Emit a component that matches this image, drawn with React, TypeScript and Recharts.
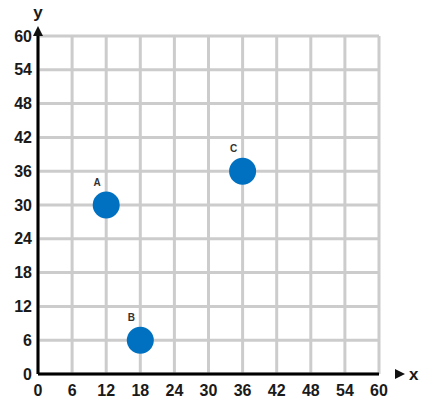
import { ScatterChart, Scatter, XAxis, YAxis, CartesianGrid } from 'recharts';

const pointNames = ['A', 'B', 'C'];
const xValues = [12, 18, 36];
const yValues = [30, 6, 36];
const axisTicks = [0, 6, 12, 18, 24, 30, 36, 42, 48, 54, 60];

const points = pointNames.map((name, i) => ({ name, x: xValues[i], y: yValues[i] }));

const FONT = '"Liberation Sans", Arial, sans-serif';

// dot with its letter up and to the left
function Dot(props: any) {
  const { cx, cy, payload } = props;
  return (
    <g>
      <circle cx={cx} cy={cy} r={13.5} fill="#0070c0" />
      <text x={cx - 9} y={cy - 19} textAnchor="middle" fontSize={10} fontWeight="bold" fontFamily={FONT} fill="#333">
        {payload.name}
      </text>
    </g>
  );
}

function XArrow(props: any) {
  const { viewBox } = props;
  const end = viewBox.x + viewBox.width;
  const y = viewBox.y;
  return (
    <g>
      <polygon points={`${end + 16},${y - 5} ${end + 26},${y} ${end + 16},${y + 5}`} fill="#111" />
      <text x={end + 30} y={y + 6} fontSize={17} fontWeight="bold" fontFamily={FONT} fill="#1a1a1a">x</text>
    </g>
  );
}

function YArrow(props: any) {
  const { viewBox } = props;
  const x = viewBox.x + viewBox.width;
  const top = viewBox.y;
  return (
    <g>
      <polygon points={`${x - 5},${top} ${x},${top - 10} ${x + 5},${top}`} fill="#111" />
      <text x={x} y={top - 18} textAnchor="middle" fontSize={17} fontWeight="bold" fontFamily={FONT} fill="#1a1a1a">y</text>
    </g>
  );
}

export default function App() {
  return (
    <div style={{ position: 'absolute', left: 0, top: 0, background: '#fff' }}>
      <ScatterChart width={425} height={406} margin={{ top: 36, right: 46, bottom: 2, left: 8 }}>
        <CartesianGrid stroke="#cccccc" strokeWidth={3} horizontalValues={axisTicks} verticalValues={axisTicks} />
        <XAxis
          type="number"
          dataKey="x"
          domain={[0, 60]}
          ticks={axisTicks}
          interval={0}
          height={30}
          axisLine={{ stroke: '#000', strokeWidth: 3 }}
          tickLine={false}
          tickSize={0}
          tickMargin={11}
          tick={{ fill: '#1a1a1a', fontSize: 16, fontWeight: 'bold', fontFamily: FONT }}
          label={<XArrow />}
        />
        <YAxis
          type="number"
          dataKey="y"
          domain={[0, 60]}
          ticks={axisTicks}
          interval={0}
          width={30}
          axisLine={{ stroke: '#000', strokeWidth: 3 }}
          tickLine={false}
          tickSize={0}
          tickMargin={6}
          tick={{ fill: '#1a1a1a', fontSize: 16, fontWeight: 'bold', fontFamily: FONT }}
          label={<YArrow />}
        />
        <Scatter data={points} shape={<Dot />} isAnimationActive={false} />
      </ScatterChart>
    </div>
  );
}
